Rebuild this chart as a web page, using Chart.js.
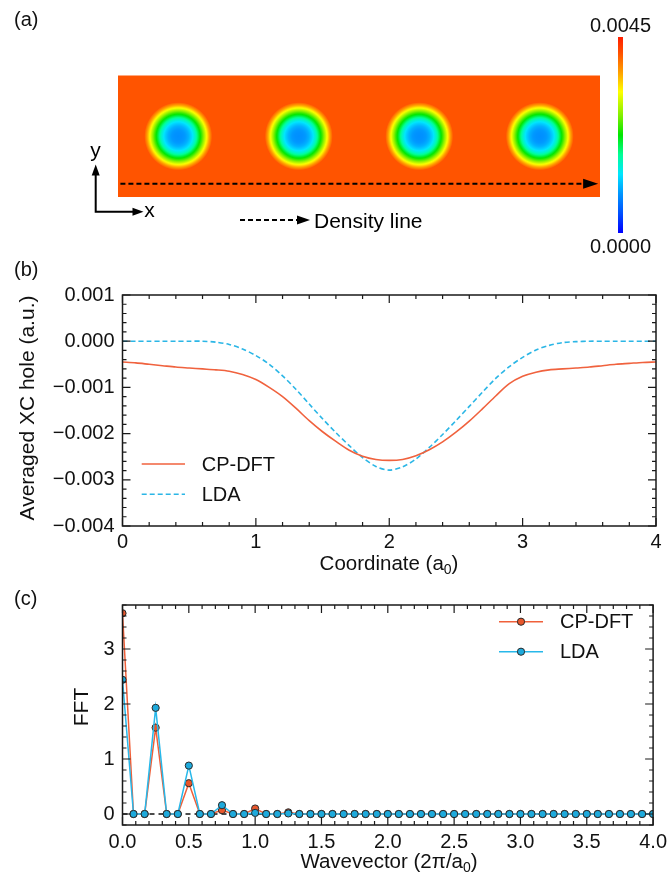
<!DOCTYPE html>
<html>
<head>
<meta charset="utf-8">
<script src="https://cdn.jsdelivr.net/npm/chart.js@4.4.0/dist/chart.umd.min.js"></script>
<style>
  html, body { margin: 0; padding: 0; background: #fff; }
  body { width: 672px; height: 882px; position: relative; overflow: hidden; }
  canvas { position: absolute; left: 0; display: block; }
</style>
</head>
<body>
<canvas id="map" width="672" height="255" style="top:0"></canvas>
<canvas id="hole" width="672" height="330" style="top:255px"></canvas>
<canvas id="fft" width="672" height="297" style="top:585px"></canvas>
<script>
// ---- (a) XC hole map ----
const holeX = [0.5, 1.5, 2.5, 3.5]
const holeY = [0, 0, 0, 0]
// density from hole centre out to its rim, equal radial steps
const holeProfile = [0.00085, 0.00087, 0.00092, 0.00105, 0.00128, 0.0016, 0.00205, 0.0025, 0.00305, 0.00362, 0.00412]
const densityX = [0.02, 3.86]
const densityY = -0.39
const cbarTicks = [0, 0.0045]

// ---- (b) averaged XC hole along the density line ----
const coord = [0, 0.1, 0.2, 0.3, 0.4, 0.5, 0.6, 0.7, 0.8, 0.9, 1, 1.1, 1.2, 1.3, 1.4, 1.5, 1.6, 1.7, 1.8, 1.9, 2,
  2.1, 2.2, 2.3, 2.4, 2.5, 2.6, 2.7, 2.8, 2.9, 3, 3.1, 3.2, 3.3, 3.4, 3.5, 3.6, 3.7, 3.8, 3.9, 4]
const holeCP = [-0.00045, -0.00047, -0.0005, -0.00053, -0.00056, -0.00058, -0.0006, -0.00062, -0.00065, -0.00072, -0.00083,
  -0.001, -0.0012, -0.00145, -0.00172, -0.00196, -0.00217, -0.00236, -0.00249, -0.00256, -0.00258,
  -0.00256, -0.00248, -0.00235, -0.00218, -0.00197, -0.00173, -0.00146, -0.00118, -0.00092, -0.00076,
  -0.00067, -0.00062, -0.0006, -0.00058, -0.00056, -0.00053, -0.0005, -0.00048, -0.00046, -0.00045]
const holeLDA = [0, 0, 0, 0, 0, 0, 0, -0.00002, -0.00007, -0.00017, -0.00031,
  -0.0005, -0.00075, -0.00104, -0.00136, -0.00168, -0.00198, -0.00226, -0.00252, -0.00271, -0.00279,
  -0.00272, -0.00255, -0.0023, -0.00202, -0.00172, -0.00141, -0.0011, -0.0008, -0.00055, -0.00035,
  -0.00019, -0.00009, -0.00003, -0.00001, 0, 0, 0, 0, 0, 0]
const coordTicks = [0, 1, 2, 3, 4]
const holeTicks = [-0.004, -0.003, -0.002, -0.001, 0, 0.001]

// ---- (c) Fourier transform ----
const waveVec = [0, 0.083, 0.167, 0.25, 0.333, 0.417, 0.5, 0.583, 0.667, 0.75, 0.833, 0.917, 1, 1.083, 1.167, 1.25,
  1.333, 1.417, 1.5, 1.583, 1.667, 1.75, 1.833, 1.917, 2, 2.083, 2.167, 2.25, 2.333, 2.417, 2.5, 2.583, 2.667,
  2.75, 2.833, 2.917, 3, 3.083, 3.167, 3.25, 3.333, 3.417, 3.5, 3.583, 3.667, 3.75, 3.833, 3.917, 4]
const fftCP = [3.65, 0, 0, 1.57, 0, 0, 0.56, 0, 0, 0.07, 0, 0, 0.1, 0, 0, 0.03,
  0, 0, 0, 0, 0, 0, 0, 0, 0, 0, 0, 0, 0, 0, 0, 0, 0, 0, 0, 0, 0, 0, 0, 0, 0, 0, 0, 0, 0, 0, 0, 0, 0]
const fftLDA = [2.44, 0, 0, 1.93, 0, 0, 0.88, 0, 0, 0.16, 0, 0, 0.02, 0, 0, 0.01,
  0, 0, 0, 0, 0, 0, 0, 0, 0, 0, 0, 0, 0, 0, 0, 0, 0, 0, 0, 0, 0, 0, 0, 0, 0, 0, 0, 0, 0, 0, 0, 0, 0]
const waveTicks = [0, 0.5, 1, 1.5, 2, 2.5, 3, 3.5, 4]
const fftTicks = [0, 1, 2, 3]

const FONT = '"Liberation Sans", Arial, Helvetica, sans-serif'
Chart.defaults.font.family = FONT
Chart.defaults.font.size = 20
Chart.defaults.color = '#111'
Chart.defaults.animation = false

// jet-like colour scale shared by the map and the colour bar
const cmapMax = 0.0045
const cmapStops = [
  [0.00, [0, 0, 255]],
  [0.10, [0, 80, 255]],
  [0.20, [0, 150, 255]],
  [0.30, [0, 230, 255]],
  [0.40, [0, 255, 150]],
  [0.50, [0, 230, 0]],
  [0.60, [130, 240, 0]],
  [0.72, [255, 255, 0]],
  [0.82, [255, 160, 0]],
  [0.92, [255, 80, 0]],
  [1.00, [255, 30, 0]]
]

function cmap(v) {
  const f = Math.min(1, Math.max(0, v / cmapMax))
  for (let i = 1; i < cmapStops.length; i++) {
    const [f0, c0] = cmapStops[i - 1]
    const [f1, c1] = cmapStops[i]
    if (f <= f1) {
      const t = (f - f0) / (f1 - f0)
      const c = c0.map((a, k) => Math.round(a + (c1[k] - a) * t))
      return `rgb(${c[0]},${c[1]},${c[2]})`
    }
  }
  return 'rgb(255,30,0)'
}

const HOLE_R = 34

function holeGradient(ctx, px, py) {
  const g = ctx.createRadialGradient(px, py, 0, px, py, HOLE_R)
  const n = holeProfile.length - 1
  for (let s = 0; s <= 40; s++) {
    const r = s / 40
    const p = r * n
    const i = Math.min(n - 1, Math.floor(p))
    const v = holeProfile[i] + (holeProfile[i + 1] - holeProfile[i]) * (p - i)
    g.addColorStop(r, cmap(v))
  }
  return g
}

function arrowHead(ctx, tx, ty, dir, len, half) {
  // dir: 'right' or 'up'
  ctx.beginPath()
  if (dir === 'right') {
    ctx.moveTo(tx, ty)
    ctx.lineTo(tx - len, ty - half)
    ctx.lineTo(tx - len, ty + half)
  } else {
    ctx.moveTo(tx, ty)
    ctx.lineTo(tx - half, ty + len)
    ctx.lineTo(tx + half, ty + len)
  }
  ctx.closePath()
  ctx.fill()
}

function panelLabel(ctx, text, y) {
  ctx.save()
  ctx.font = `20px ${FONT}`
  ctx.fillStyle = '#111'
  ctx.textAlign = 'left'
  ctx.textBaseline = 'alphabetic'
  ctx.fillText(text, 14, y)
  ctx.restore()
}

// text with subscript pieces, centred on x, y is the baseline
function drawRich(ctx, parts, x, y, size) {
  const sub = Math.round(size * 0.7)
  const widths = parts.map(([t, s]) => {
    ctx.font = `${s ? sub : size}px ${FONT}`
    return ctx.measureText(t).width
  })
  let cx = x - widths.reduce((a, b) => a + b, 0) / 2
  ctx.textAlign = 'left'
  ctx.textBaseline = 'alphabetic'
  parts.forEach(([t, s], i) => {
    ctx.font = `${s ? sub : size}px ${FONT}`
    ctx.fillText(t, cx, s ? y + size * 0.2 : y)
    cx += widths[i]
  })
}

const mapDecor = {
  id: 'mapDecor',
  beforeDatasetsDraw(chart) {
    const { ctx, chartArea: a } = chart
    ctx.save()
    ctx.fillStyle = cmap(holeProfile[holeProfile.length - 1])
    ctx.fillRect(a.left, a.top, a.width, a.height)
    ctx.restore()
  },
  afterDatasetsDraw(chart) {
    const ctx = chart.ctx
    const meta = chart.getDatasetMeta(1)
    const end = meta.data[meta.data.length - 1]
    ctx.save()
    ctx.fillStyle = '#000'
    arrowHead(ctx, end.x + 15, end.y, 'right', 15, 5)
    ctx.restore()
  },
  afterDraw(chart) {
    const ctx = chart.ctx
    ctx.save()
    // colour bar
    const bx = 618, bTop = 37, bBot = 233, bw = 5
    const g = ctx.createLinearGradient(0, bBot, 0, bTop)
    cmapStops.forEach(([f, c]) => g.addColorStop(f, `rgb(${c[0]},${c[1]},${c[2]})`))
    ctx.fillStyle = g
    ctx.fillRect(bx, bTop, bw, bBot - bTop)
    ctx.fillStyle = '#111'
    ctx.font = `20px ${FONT}`
    ctx.textAlign = 'center'
    ctx.textBaseline = 'middle'
    ctx.fillText(cbarTicks[1].toFixed(4), bx + bw / 2, 26)
    ctx.fillText(cbarTicks[0].toFixed(4), bx + bw / 2, 247)

    // x / y orientation arrows
    ctx.strokeStyle = '#000'
    ctx.fillStyle = '#000'
    ctx.lineWidth = 2
    ctx.setLineDash([])
    ctx.beginPath()
    ctx.moveTo(95.7, 212.5)
    ctx.lineTo(95.7, 174)
    ctx.moveTo(94.7, 211.7)
    ctx.lineTo(133, 211.7)
    ctx.stroke()
    arrowHead(ctx, 95.7, 164.5, 'up', 11, 4)
    arrowHead(ctx, 143.5, 211.7, 'right', 11, 4)
    ctx.font = `21px ${FONT}`
    ctx.textAlign = 'center'
    ctx.textBaseline = 'alphabetic'
    ctx.fillText('y', 95.5, 157)
    ctx.fillText('x', 149.5, 217)

    // density line key
    ctx.lineWidth = 2
    ctx.setLineDash([5, 3])
    ctx.beginPath()
    ctx.moveTo(240, 220)
    ctx.lineTo(298, 220)
    ctx.stroke()
    ctx.setLineDash([])
    arrowHead(ctx, 310, 220, 'right', 13, 4.5)
    ctx.font = `21px ${FONT}`
    ctx.textAlign = 'left'
    ctx.fillText('Density line', 314, 228)
    ctx.restore()
    panelLabel(ctx, '(a)', 26)
  }
}

new Chart(document.getElementById('map'), {
  type: 'scatter',
  data: {
    datasets: [{
      data: holeX.map((x, i) => ({ x, y: holeY[i] })),
      pointRadius: HOLE_R,
      pointBorderWidth: 0,
      borderWidth: 0,
      pointBackgroundColor: ctx => {
        if (ctx.type !== 'data' || !ctx.raw) return 'transparent'
        const { chart } = ctx
        const px = chart.scales.x.getPixelForValue(ctx.raw.x)
        const py = chart.scales.y.getPixelForValue(ctx.raw.y)
        if (!Number.isFinite(px) || !Number.isFinite(py)) return 'transparent'
        return holeGradient(chart.ctx, px, py)
      }
    }, {
      type: 'line',
      data: densityX.map(x => ({ x, y: densityY })),
      borderColor: '#000',
      borderWidth: 2,
      borderDash: [5, 3],
      pointRadius: 0
    }]
  },
  options: {
    responsive: false,
    events: [],
    layout: { padding: { left: 118, right: 72, top: 75.5, bottom: 58 } },
    scales: {
      x: { type: 'linear', min: 0, max: 4, display: false },
      y: { type: 'linear', min: -0.5, max: 0.5, display: false }
    },
    plugins: { legend: { display: false }, tooltip: { enabled: false } }
  },
  plugins: [mapDecor]
})

// inward ticks on all four sides plus the box
function steps(min, max, step) {
  const out = []
  const n = Math.round((max - min) / step)
  for (let i = 0; i <= n; i++) out.push(+(min + i * step).toFixed(6))
  return out
}

function makeFrame(xMajor, xMinor, yMajor, yMinor) {
  return {
    id: 'frame',
    afterDatasetsDraw(chart) {
      const { ctx, chartArea: a, scales: { x, y } } = chart
      ctx.save()
      ctx.strokeStyle = '#1a1a1a'
      ctx.lineWidth = 1.2
      ctx.setLineDash([])
      ctx.beginPath()
      const xt = (v, len) => {
        const p = x.getPixelForValue(v)
        ctx.moveTo(p, a.bottom); ctx.lineTo(p, a.bottom - len)
        ctx.moveTo(p, a.top); ctx.lineTo(p, a.top + len)
      }
      const yt = (v, len) => {
        const p = y.getPixelForValue(v)
        ctx.moveTo(a.left, p); ctx.lineTo(a.left + len, p)
        ctx.moveTo(a.right, p); ctx.lineTo(a.right - len, p)
      }
      xMinor.forEach(v => xt(v, 4))
      xMajor.forEach(v => xt(v, 8))
      yMinor.forEach(v => yt(v, 4))
      yMajor.forEach(v => yt(v, 8))
      ctx.stroke()
      ctx.lineWidth = 1.5
      ctx.strokeRect(a.left, a.top, a.width, a.height)
      ctx.restore()
    }
  }
}

function makeLegend(x0, x1, xm, xt, ys) {
  return {
    id: 'inlineLegend',
    afterDraw(chart) {
      const ctx = chart.ctx
      ctx.save()
      chart.data.datasets.forEach((ds, i) => {
        const y = ys[i]
        ctx.strokeStyle = ds.borderColor
        ctx.lineWidth = ds.borderWidth
        ctx.setLineDash(ds.borderDash || [])
        ctx.beginPath()
        ctx.moveTo(x0, y)
        ctx.lineTo(x1, y)
        ctx.stroke()
        ctx.setLineDash([])
        if (ds.pointRadius) {
          ctx.beginPath()
          ctx.arc(xm, y, ds.pointRadius, 0, Math.PI * 2)
          ctx.fillStyle = ds.pointBackgroundColor
          ctx.fill()
          ctx.lineWidth = ds.pointBorderWidth
          ctx.strokeStyle = ds.pointBorderColor
          ctx.stroke()
        }
        ctx.fillStyle = '#111'
        ctx.font = `20px ${FONT}`
        ctx.textAlign = 'left'
        ctx.textBaseline = 'middle'
        ctx.fillText(ds.label, xt, y + 1)
      })
      ctx.restore()
    }
  }
}

function fixedTicks(list) {
  return scale => { scale.ticks = list.map(value => ({ value })) }
}

const minus = s => s.replace('-', '\u2212')

// (b)
new Chart(document.getElementById('hole'), {
  type: 'line',
  data: {
    datasets: [{
      label: 'CP-DFT',
      data: coord.map((x, i) => ({ x, y: holeCP[i] })),
      borderColor: '#f0623e',
      borderWidth: 1.6,
      pointRadius: 0,
      tension: 0.3
    }, {
      label: 'LDA',
      data: coord.map((x, i) => ({ x, y: holeLDA[i] })),
      borderColor: '#2bb6e6',
      borderWidth: 1.6,
      borderDash: [5, 3],
      pointRadius: 0,
      tension: 0.3
    }]
  },
  options: {
    responsive: false,
    events: [],
    layout: { padding: { left: 0, right: 16, top: 40, bottom: 0 } },
    scales: {
      x: {
        type: 'linear', min: 0, max: 4,
        afterBuildTicks: fixedTicks(coordTicks),
        afterFit: s => { s.height = 59 },
        grid: { display: false, drawTicks: false },
        border: { display: false },
        ticks: { padding: 4, autoSkip: false, maxRotation: 0, callback: v => String(v) }
      },
      y: {
        type: 'linear', min: -0.004, max: 0.001,
        afterBuildTicks: fixedTicks(holeTicks),
        afterFit: s => { s.width = 122.5 },
        grid: { display: false, drawTicks: false },
        border: { display: false },
        ticks: { padding: 8, autoSkip: false, callback: v => minus(v.toFixed(3)) }
      }
    },
    plugins: { legend: { display: false }, tooltip: { enabled: false } }
  },
  plugins: [
    makeFrame(coordTicks, steps(0, 4, 0.2), holeTicks, steps(-0.004, 0.001, 0.0002)),
    makeLegend(141.7, 185, null, 201.7, [209, 239.3]),
    {
      id: 'titles',
      afterDraw(chart) {
        const ctx = chart.ctx
        ctx.save()
        ctx.fillStyle = '#111'
        drawRich(ctx, [['Coordinate (a', false], ['0', true], [')', false]], 389, 315, 20.5)
        ctx.translate(34, 153)
        ctx.rotate(-Math.PI / 2)
        drawRich(ctx, [['Averaged XC hole (a.u.)', false]], 0, 0, 21)
        ctx.restore()
        panelLabel(ctx, '(b)', 21)
      }
    }
  ]
})

// (c)
new Chart(document.getElementById('fft'), {
  type: 'line',
  data: {
    datasets: [{
      label: 'CP-DFT',
      data: waveVec.map((x, i) => ({ x, y: fftCP[i] })),
      borderColor: '#f0603a',
      borderWidth: 1.5,
      pointRadius: 3.6,
      pointBackgroundColor: '#e8572c',
      pointBorderColor: '#2a2a2a',
      pointBorderWidth: 1,
      tension: 0,
      clip: 0,
      order: 2
    }, {
      label: 'LDA',
      data: waveVec.map((x, i) => ({ x, y: fftLDA[i] })),
      borderColor: '#27b8ea',
      borderWidth: 1.5,
      pointRadius: 3.6,
      pointBackgroundColor: '#1eaadc',
      pointBorderColor: '#2a2a2a',
      pointBorderWidth: 1,
      tension: 0,
      clip: 0,
      order: 1
    }]
  },
  options: {
    responsive: false,
    events: [],
    layout: { padding: { left: 0, right: 16, top: 10, bottom: 0 } },
    scales: {
      x: {
        type: 'linear', min: 0, max: 4,
        afterBuildTicks: fixedTicks(waveTicks),
        afterFit: s => { s.height = 57 },
        grid: { display: false, drawTicks: false },
        border: { display: false },
        ticks: { padding: 5, autoSkip: false, maxRotation: 0, callback: v => v.toFixed(1) }
      },
      y: {
        type: 'linear', min: -0.2, max: 3.8,
        afterBuildTicks: fixedTicks(fftTicks),
        afterFit: s => { s.width = 122.5 },
        grid: { display: false, drawTicks: false },
        border: { display: false },
        ticks: { padding: 8, autoSkip: false, callback: v => String(v) }
      }
    },
    plugins: { legend: { display: false }, tooltip: { enabled: false } }
  },
  plugins: [
    {
      id: 'zeroLine',
      beforeDatasetsDraw(chart) {
        const { ctx, chartArea: a, scales: { y } } = chart
        const p = y.getPixelForValue(0)
        ctx.save()
        ctx.strokeStyle = '#111'
        ctx.lineWidth = 1.3
        ctx.setLineDash([5, 4])
        ctx.beginPath()
        ctx.moveTo(a.left, p)
        ctx.lineTo(a.right, p)
        ctx.stroke()
        ctx.restore()
      }
    },
    makeFrame(waveTicks, steps(0, 4, 0.1), fftTicks, steps(-0.2, 3.8, 0.2)),
    makeLegend(499, 543, 521, 560, [36.7, 66.7]),
    {
      id: 'titles',
      afterDraw(chart) {
        const ctx = chart.ctx
        ctx.save()
        ctx.fillStyle = '#111'
        drawRich(ctx, [['Wavevector (2\u03c0/a', false], ['0', true], [')', false]], 389, 282.5, 20.5)
        ctx.translate(88, 122)
        ctx.rotate(-Math.PI / 2)
        drawRich(ctx, [['FFT', false]], 0, 0, 21)
        ctx.restore()
        panelLabel(ctx, '(c)', 19.5)
      }
    }
  ]
})
</script>
</body>
</html>
